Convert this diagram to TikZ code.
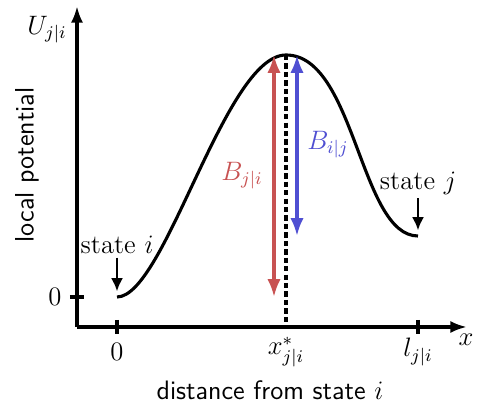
\documentclass[tikz,border=0pt]{standalone}
\usepackage{amsmath,amssymb}
\usepackage{xcolor}
\usetikzlibrary{arrows.meta}
\definecolor{forwardcolor}{HTML}{C85252}
\definecolor{backwardcolor}{HTML}{4F4FD2}
\tikzset{axis/.style={line width=1.6pt,-{Latex[length=7.5pt,width=5.5pt]}},tick/.style={line width=1.6pt},curve/.style={line width=1.4pt},barrier/.style={line width=1.5pt,{Latex[length=8pt,width=6pt]}-{Latex[length=8pt,width=6pt]}},forward/.style={barrier,draw=forwardcolor},backward/.style={barrier,draw=backwardcolor},marker/.style={line width=1.3pt,-{Latex[length=6pt,width=5.5pt]}},saddle/.style={line width=1.4pt,dash pattern=on 2.4pt off 1.4pt},axis label/.style={font=\large,inner sep=1pt},side label/.style={font=\sffamily\large,inner sep=1pt}}
\begin{document}
\begin{tikzpicture}[x=0.45pt,y=-0.45pt]
 \useasboundingbox (0,0) rectangle (483,407);
 \coordinate (origin) at (77,327);
 \coordinate (xend) at (467,327);
 \coordinate (yend) at (77,6);
 \coordinate (xzero) at (117,327);
 \coordinate (xsaddle) at (286,327);
 \coordinate (xlen) at (418,327);
 \coordinate (yzero) at (77,297);
 \coordinate (mini) at (117,297);
 \coordinate (top) at (286,55);
 \coordinate (minj) at (418,236);
 \draw[axis] (origin) -- (xend);
 \draw[axis] (origin) -- (yend);
 \draw[tick] ([yshift=3.2pt]xzero) -- ([yshift=-3.2pt]xzero);
 \draw[tick] ([yshift=3.2pt]xlen) -- ([yshift=-3.2pt]xlen);
 \draw[tick] ([xshift=-3.2pt]yzero) -- ([xshift=3.2pt]yzero);
 \node[axis label] (zerolbl) at (117,352) {$0$};
 \node[axis label] (saddlelbl) at (286,352) {$x^*_{j|i}$};
 \node[axis label] (lenlbl) at (418,352) {$l_{j|i}$};
 \node[axis label] (xlbl) at (466,340) {$x$};
 \node[axis label] (ylbl) at (47,30) {$U_{j|i}$};
 \node[axis label] (yzerolbl) at (55,297) {$0$};
 \node[side label] (xtitle) at (270,390) {distance from state $i$};
 \node[side label,rotate=90] (ytitle) at (27,165) {local potential};
 % potential profile
 \draw[saddle] (top) -- (xsaddle);
 \draw[curve] (mini) .. controls (165,297) and (225,55) .. (top)
   .. controls (355,55) and (360,236) .. (minj);
 % barriers
 \coordinate (fwdtop) at (274,55);
 \coordinate (fwdbot) at (274,297);
 \coordinate (bwdtop) at (297,55);
 \coordinate (bwdbot) at (297,236);
 \draw[forward] (fwdbot) -- (fwdtop);
 \draw[backward] (bwdbot) -- (bwdtop);
 \node[axis label,text=forwardcolor] (fwdlbl) at (242,176) {$B_{j|i}$};
 \node[axis label,text=backwardcolor] (bwdlbl) at (328,145) {$B_{i|j}$};
 % states
 \node[axis label] (statei) at (117,245) {state $i$};
 \node[axis label] (statej) at (418,183) {state $j$};
 \draw[marker] ([yshift=-0.5pt]statei.south) -- ([yshift=2.5pt]mini);
 \draw[marker] ([yshift=-0.5pt]statej.south) -- ([yshift=2.5pt]minj);
\end{tikzpicture}
\end{document}
